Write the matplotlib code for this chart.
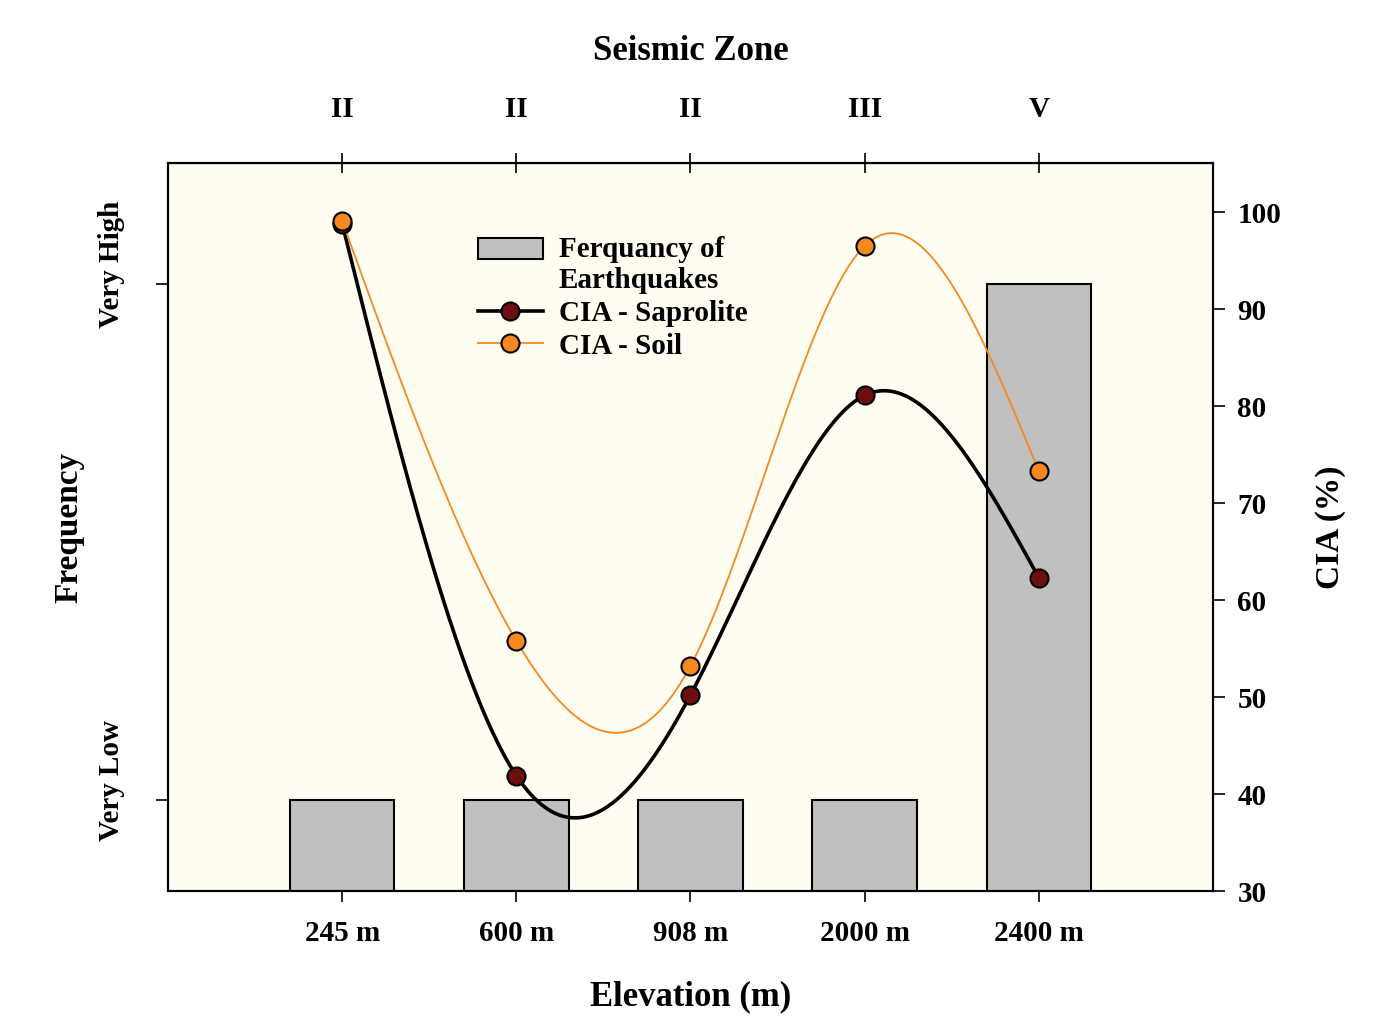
import numpy as np
import matplotlib.pyplot as plt
from matplotlib.lines import Line2D
from matplotlib.patches import Rectangle
from matplotlib.legend_handler import HandlerPatch

plt.rcParams['font.family'] = ['Liberation Serif', 'DejaVu Serif']
plt.rcParams['font.weight'] = 'bold'
plt.rcParams['axes.labelweight'] = 'bold'

# Data
elevation = ["245 m", "600 m", "908 m", "2000 m", "2400 m"]
seismic_zone = ["II", "II", "II", "III", "V"]
freq_level = [1, 1, 1, 1, 2]          # 1 = Very Low, 2 = Very High
freq_labels = ["Very Low", "Very High"]
cia_saprolite = [98.8, 41.9, 50.2, 81.1, 62.3]
cia_soil = [99.1, 55.8, 53.2, 96.5, 73.3]


def natural_spline(x, y, n=400):
    # natural cubic spline, used only to draw the smooth curve through the points
    x = np.asarray(x, float)
    y = np.asarray(y, float)
    k = len(x)
    h = np.diff(x)
    A = np.zeros((k, k))
    b = np.zeros(k)
    A[0, 0] = A[-1, -1] = 1
    for i in range(1, k - 1):
        A[i, i - 1] = h[i - 1]
        A[i, i] = 2 * (h[i - 1] + h[i])
        A[i, i + 1] = h[i]
        b[i] = 3 * ((y[i + 1] - y[i]) / h[i] - (y[i] - y[i - 1]) / h[i - 1])
    c = np.linalg.solve(A, b)
    xs = np.linspace(x[0], x[-1], n)
    ys = np.empty_like(xs)
    for j, t in enumerate(xs):
        i = min(np.searchsorted(x, t, side='right') - 1, k - 2)
        bi = (y[i + 1] - y[i]) / h[i] - h[i] * (c[i + 1] + 2 * c[i]) / 3
        di = (c[i + 1] - c[i]) / (3 * h[i])
        dx = t - x[i]
        ys[j] = y[i] + bi * dx + c[i] * dx ** 2 + di * dx ** 3
    return xs, ys


pos = np.arange(len(elevation))

fig = plt.figure(figsize=(14, 10.19), dpi=100)
ax = fig.add_axes([0.12, 0.1256, 0.7464, 0.7144])
ax.set_facecolor('#FFFDF2')

bars = ax.bar(pos, freq_level, width=0.6, color='#C0C0C0', edgecolor='black',
              linewidth=1.5, zorder=2)
ax.set_xlim(-1, 5)
ax.set_ylim(0.824, 2.234)
ax.set_yticks([1, 2])
ax.set_yticklabels([])
# left tick labels sit a bit above their ticks in the original
for v, lab in zip([1, 2], freq_labels):
    ax.annotate(lab, xy=(0, v), xycoords=ax.get_yaxis_transform(),
                xytext=(-41, 14), textcoords='offset points',
                rotation=90, ha='center', va='center', fontsize=21)
ax.set_xticks(pos)
ax.set_xticklabels(elevation, fontsize=21)
ax.tick_params(axis='y', direction='out', length=8.6, width=1.2)
ax.tick_params(axis='x', direction='out', length=8, width=1.2, pad=13)
ax.set_ylabel("Frequency", fontsize=24, labelpad=48)
ax.set_xlabel("Elevation (m)", fontsize=25, labelpad=24)
for s in ax.spines.values():
    s.set_linewidth(1.5)

ax2 = ax.twinx()
xs, ys = natural_spline(pos, cia_saprolite)
ax2.plot(xs, ys, color='black', lw=2.6, zorder=3)
xs, ys = natural_spline(pos, cia_soil)
ax2.plot(xs, ys, color='#F5891F', lw=1.3, zorder=3)
ax2.plot(pos, cia_saprolite, 'o', color='#6E0F0F', mec='black', mew=1.5, ms=13, zorder=4)
ax2.plot(pos, cia_soil, 'o', color='#F5891F', mec='black', mew=1.5, ms=13, zorder=4)
ax2.set_ylim(30, 105.05)
ax2.set_yticks(range(30, 101, 10))
ax2.tick_params(axis='y', direction='out', length=8.6, width=1.2, pad=9, labelsize=21)
ax2.set_ylabel("CIA (%)", fontsize=24, labelpad=24)
for s in ax2.spines.values():
    s.set_linewidth(1.5)

top = ax.secondary_xaxis('top')
top.set_xticks(pos)
top.set_xticklabels(seismic_zone, fontsize=21)
top.tick_params(direction='inout', length=14, width=1.2, pad=22)
top.set_xlabel("Seismic Zone", fontsize=25, labelpad=26)


# legend: bar swatch lines up with the first text line
def raised_patch(legend, orig_handle, xdescent, ydescent, width, height, fontsize):
    return Rectangle((-xdescent, -ydescent + 0.58 * fontsize), width, height)


bar_handle = bars.patches[0]
h_sap = Line2D([], [], color='black', lw=2.6, marker='o', mfc='#6E0F0F', mec='black', mew=1.5, ms=13)
h_soil = Line2D([], [], color='#F5891F', lw=1.3, marker='o', mfc='#F5891F', mec='black', mew=1.5, ms=13)
ax2.legend([bar_handle, h_sap, h_soil],
           ['Ferquancy of\nEarthquakes', 'CIA - Saprolite', 'CIA - Soil'],
           handler_map={bar_handle: HandlerPatch(patch_func=raised_patch)},
           loc='upper left', bbox_to_anchor=(0.297, 0.90), frameon=False,
           fontsize=21, handlelength=2.2, handletextpad=0.55, labelspacing=0.2,
           borderaxespad=0, borderpad=0)

fig.savefig('out.png', dpi=100)
